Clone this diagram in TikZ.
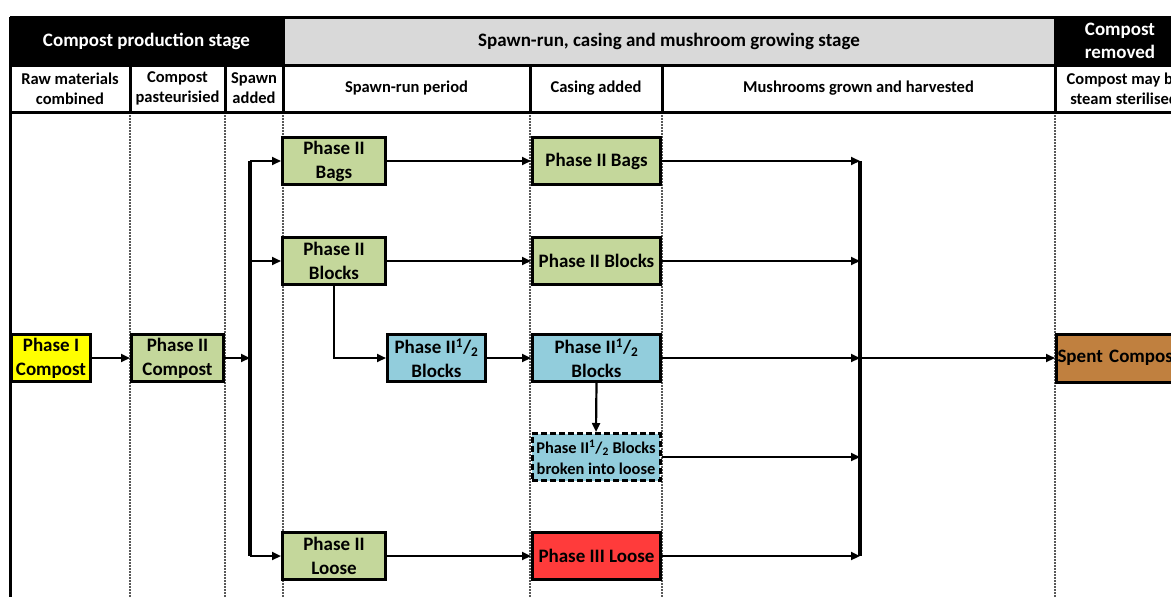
\documentclass[tikz,border=0pt]{standalone}
\usepackage{fontspec}
\setmainfont{Carlito}
\usetikzlibrary{arrows.meta}
\definecolor{pgreen}{HTML}{C4D79B}
\definecolor{pyellow}{HTML}{FFFF00}
\definecolor{pblue}{HTML}{92CDDC}
\definecolor{pred}{HTML}{FF3B3B}
\definecolor{pbrown}{HTML}{C0803F}
\definecolor{hgrey}{HTML}{D9D9D9}
\newcommand{\half}{II\textsuperscript{1}/\textsubscript{2}}
\tikzset{
  box/.style={draw, line width=3pt, inner sep=0pt, align=center,
    font=\bfseries\fontsize{19}{24}\selectfont},
  smallbox/.style={box, font=\bfseries\fontsize{16.4}{21}\selectfont},
  arr/.style={line width=2.2pt, -{Triangle[length=9pt,width=8pt]}},
  bus/.style={line width=3.5pt},
  frame/.style={line width=3pt},
  coldash/.style={line width=1.2pt, black!65, dash pattern=on 2pt off 1pt},
  hdr/.style={font=\bfseries\fontsize{19}{23}\selectfont, align=center},
  sub/.style={font=\bfseries\fontsize{16.5}{20}\selectfont, align=center},
}
\begin{document}
\begin{tikzpicture}[x=1pt,y=-1pt]
\useasboundingbox (0,0) rectangle (1171,597);
\clip (0,0) rectangle (1171,597);
% header backgrounds
\fill[black] (10,17) rectangle (283,65);
\fill[hgrey] (283,17) rectangle (1055,65);
\fill[black] (1055,17) rectangle (1185,65);
% column dashed lines
\foreach \x in {130,225,283,530,662,1055}
  \draw[coldash] (\x,112) -- (\x,600);
% frame lines
\draw[frame] (10,17) -- (1185,17);
\draw[frame] (10,65) -- (1185,65);
\draw[frame] (10,112) -- (1185,112);
\draw[frame] (10,17) -- (10,600);
\draw[frame] (283,17) -- (283,112);
\draw[frame] (1055,17) -- (1055,112);
\foreach \x in {130,225,530,662}
  \draw[frame] (\x,65) -- (\x,112);
% header texts
\node[hdr, text=white] (h1) at (146.5,41) {Compost production stage};
\node[hdr] (h2) at (669,41) {Spawn-run, casing and mushroom growing stage};
\node[hdr, text=white] (h3) at (1120,41) {Compost\\removed};
\node[sub] (c1) at (70,88.5) {Raw materials\\combined};
\node[sub] (c2) at (177.5,88.5) {Compost\\pasteurisied};
\node[sub] (c3) at (254,88.5) {Spawn\\added};
\node[sub] (c4) at (406.5,88.5) {Spawn-run period};
\node[sub] (c5) at (596,88.5) {Casing added};
\node[sub] (c6) at (858.5,88.5) {Mushrooms grown and harvested};
\node[sub] (c7) at (1124,88.5) {Compost may be\\steam sterilised};
% nodes
\node[box, fill=pyellow, minimum width=79pt, minimum height=47pt] (p1) at (51,358) {Phase I\\Compost};
\node[box, fill=pgreen, minimum width=92pt, minimum height=47pt] (p2) at (177.5,358) {Phase II\\Compost};
\node[box, fill=pgreen, minimum width=103pt, minimum height=47pt] (bags1) at (334,161) {Phase II\\Bags};
\node[box, fill=pgreen, minimum width=103pt, minimum height=47pt] (blocks1) at (334,261) {Phase II\\Blocks};
\node[box, fill=pgreen, minimum width=103pt, minimum height=47pt] (loose1) at (334,556) {Phase II\\Loose};
\node[box, fill=pblue, minimum width=98pt, minimum height=47pt] (half1) at (436.5,358) {Phase \half\\Blocks};
\node[box, fill=pgreen, minimum width=128pt, minimum height=47pt] (bags2) at (596.5,161) {Phase II Bags};
\node[box, fill=pgreen, minimum width=128pt, minimum height=47pt] (blocks2) at (596.5,261) {Phase II Blocks};
\node[box, fill=pblue, minimum width=128pt, minimum height=47pt] (half2) at (596.5,358) {Phase \half\\Blocks};
\node[smallbox, dash pattern=on 6pt off 3pt, fill=pblue, minimum width=128pt, minimum height=47pt] (broken) at (596,457) {Phase \half{} Blocks\\broken into loose};
\node[box, fill=pred, minimum width=128pt, minimum height=47pt] (loose3) at (596.5,556) {Phase III Loose};
\node[box, fill=pbrown, minimum width=150pt, minimum height=48pt, text width=150pt, align=left] (spent) at (1131.5,358) {\hspace*{1pt}Spent Compost};
% spawn bus
\coordinate (sTop) at (250,161);
\coordinate (sBot) at (250,556);
\draw[bus] (sTop) -- (sBot);
\draw[arr] (p1) -- (p2);
\draw[arr] (p2.east) -- (p2.east -| sTop);
\draw[arr] (sTop) -- (bags1.west);
\draw[arr] (blocks1.west -| sTop) -- (blocks1.west);
\draw[arr] (sBot) -- (loose1.west);
\draw[arr] (blocks1.south) |- (half1.west);
\draw[arr] (half1) -- (half2);
\draw[arr] (bags1) -- (bags2);
\draw[arr] (blocks1) -- (blocks2);
\draw[arr] (loose1) -- (loose3);
\draw[arr] (half2.south) -- (broken.north);
% collector bus
\coordinate (cTop) at (860,161);
\coordinate (cBot) at (860,556);
\draw[bus] (cTop) -- (cBot);
\draw[arr] (bags2.east) -- (bags2.east -| cTop);
\draw[arr] (blocks2.east) -- (blocks2.east -| cTop);
\draw[arr] (half2.east) -- (half2.east -| cTop);
\draw[arr] (broken.east) -- (broken.east -| cTop);
\draw[arr] (loose3.east) -- (loose3.east -| cTop);
\draw[arr] (half2.east -| cTop) -- (spent.west);
\end{tikzpicture}
\end{document}
